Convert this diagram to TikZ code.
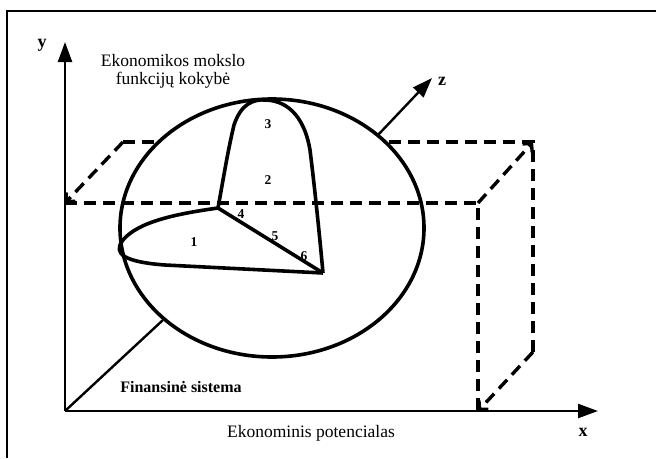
\documentclass[tikz,border=0pt]{standalone}
\usepackage{fontspec}
\setmainfont{Liberation Serif}
\usetikzlibrary{arrows.meta}

\begin{document}
\begin{tikzpicture}[
  x=1pt, y=-1pt,
  every node/.style={font=\fontsize{17.5}{18}\selectfont, inner sep=0pt},
  axis/.style={-{Triangle[length=20pt, width=14pt]}, line width=2.4pt},
  hid/.style={line width=3.4pt, dash pattern=on 12pt off 7pt},
  hidarr/.style={hid, -{Straight Barb[length=6pt, width=13pt]}},
  rim/.style={line width=3.6pt},
  num/.style={font=\fontsize{13.5}{13.5}\selectfont\bfseries},
  lbl/.style={font=\fontsize{18}{18}\selectfont\bfseries}
]
  \useasboundingbox (0,0) rectangle (656,458);
  \draw[line width=1.8pt] (7,458) -- (7,11) -- (656,11);

  \coordinate (O) at (65,411);
  \coordinate (Ytip) at (65,42);
  \coordinate (Xtip) at (598,411);
  \coordinate (Fin) at (163,320);
  \coordinate (Zs) at (378,135);
  \coordinate (Ztip) at (432,78);
  \coordinate (E) at (272,228);

  % back of the box
  \coordinate (BL) at (123,142);
  \coordinate (BR) at (533,142);
  \coordinate (BD) at (533,352);
  \coordinate (FL) at (65,203);
  \coordinate (FR) at (478,203);
  \coordinate (FD) at (478,411);
  \draw[hid] (BL) -- (BR) -- (BD);
  \draw[hidarr] (BL) -- (FL);
  \draw[hidarr] (FR) -- (BR);
  \draw[hidarr] (BD) -- (FD);

  \draw[line width=2.4pt] (O) -- (Fin);
  \draw[rim, fill=white] (E) ellipse [x radius=152, y radius=129];
  \draw[axis] (Zs) -- (Ztip);

  \draw[hid] (FL) -- (FR) -- (FD);

  % petals
  \coordinate (C) at (218,208);
  \coordinate (P) at (323,273);
  \draw[rim, line join=round] (C) .. controls (175,214) and (138,222) .. (123,240)
    .. controls (112,254) and (125,262) .. (165,265) -- (P);
  \draw[rim, line join=round] (C) .. controls (224,175) and (228,150) .. (234,125)
    .. controls (241,104) and (253,99) .. (266,100)
    .. controls (290,101) and (305,120) .. (310,150)
    .. controls (315,190) and (320,240) .. (P);
  \draw[rim] (C) -- (P);

  \draw[axis] (O) -- (Ytip);
  \draw[axis] (O) -- (Xtip);

  \node[num] (n1) at (194,242) {1};
  \node[num] (n2) at (268,180) {2};
  \node[num] (n3) at (268,124) {3};
  \node[num] (n4) at (241,214) {4};
  \node[num] (n5) at (275,236) {5};
  \node[num] (n6) at (304,256) {6};

  \node[lbl] (ly) at (42,45) {y};
  \node[lbl] (lz) at (442,81) {z};
  \node[lbl] (lx) at (583,432) {x};

  \node[align=center] (qual) at (173,71) {Ekonomikos mokslo\\funkcijų kokybė};
  \node[font=\fontsize{16}{16}\selectfont\bfseries] (fin) at (181,387) {Finansinė sistema};
  \node (pot) at (311,433) {Ekonominis potencialas};
\end{tikzpicture}
\end{document}
